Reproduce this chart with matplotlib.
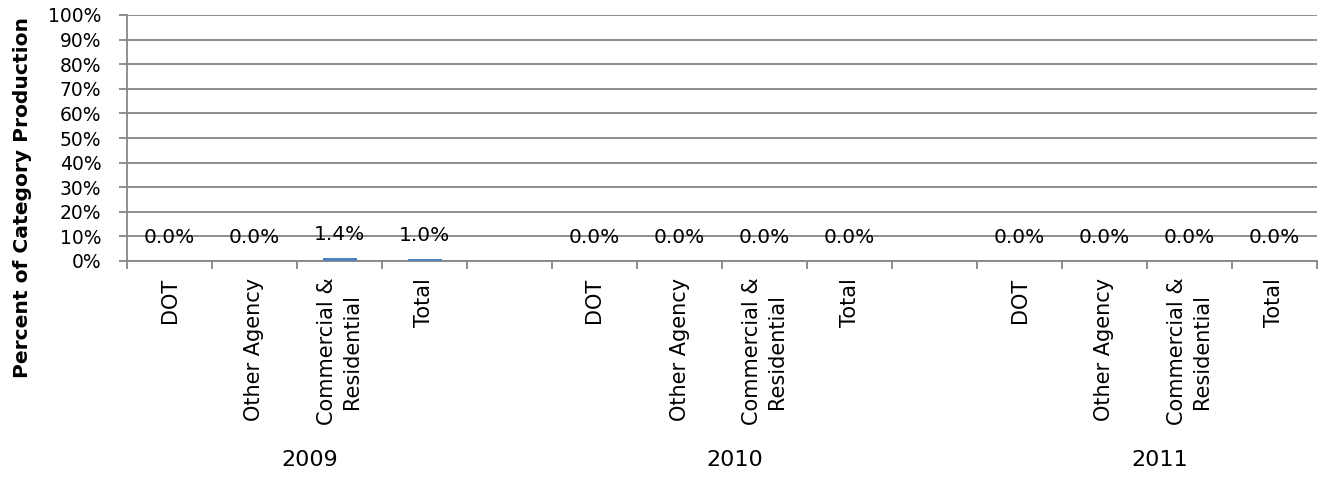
import matplotlib
matplotlib.use("Agg")
import matplotlib.pyplot as plt
import numpy as np

years = ["2009", "2010", "2011"]
categories = ["DOT", "Other Agency", "Commercial &\nResidential", "Total"]
values = {
    "2009": [0.0, 0.0, 1.4, 1.0],
    "2010": [0.0, 0.0, 0.0, 0.0],
    "2011": [0.0, 0.0, 0.0, 0.0],
}
y_ticks = [0, 10, 20, 30, 40, 50, 60, 70, 80, 90, 100]

plt.rcParams['font.family'] = ['DejaVu Sans']

fig = plt.figure(figsize=(13.24, 4.8), dpi=100)
ax = fig.add_axes([127/1324, 1 - 261/480, (1317-127)/1324, (261-15)/480])

bar_color = "#4F81BD"
grid_color = "#868686"
fs = 14.5
n_cat = len(categories)
positions, labels = [], []
slot = 0
for gi, yr in enumerate(years):
    xs = np.arange(n_cat) + slot
    ax.bar(xs, values[yr], width=0.4, color=bar_color, zorder=3)
    for x, v in zip(xs, values[yr]):
        ax.annotate(f"{v:.1f}%", (x, v), xytext=(0, 18), textcoords="offset pixels",
                    ha="center", va="baseline", fontsize=fs, color="black", zorder=4)
    positions.extend(xs)
    labels.extend(categories)
    center = slot + (n_cat - 1) / 2 + 0.15
    ax.text(center, -0.809, yr, transform=ax.get_xaxis_transform(), ha="center",
            va="center", fontsize=16)
    slot += n_cat + 1

total_slots = slot - 1
ax.set_xlim(-0.5, total_slots - 0.5)
ax.set_ylim(0, 100)
ax.set_yticks(y_ticks)
ax.set_yticklabels([f"{t}%" for t in y_ticks], fontsize=13.5)
ax.yaxis.grid(True, color=grid_color, linewidth=1.3, zorder=0)
ax.set_axisbelow(True)

ax.set_xticks(positions)
ax.set_xticklabels(labels, rotation=90, fontsize=15, va="top", ha="center",
                   multialignment="center", linespacing=1.3)
ax.set_xticks(np.arange(-0.5, total_slots, 1.0), minor=True)
ax.tick_params(axis="x", which="major", length=0, pad=12)
ax.tick_params(axis="x", which="minor", length=5.5, color=grid_color, width=1.3)
ax.tick_params(axis="y", length=6, color=grid_color, width=1.3, pad=12.5)

for s in ["top", "right"]:
    ax.spines[s].set_visible(False)
for s in ["left", "bottom"]:
    ax.spines[s].set_color(grid_color)
    ax.spines[s].set_linewidth(1.3)

fig.text(23/1324, 1 - 197/480, "Percent of Category Production", rotation=90,
         fontsize=14.6, fontweight="bold", ha="center", va="center")

fig.savefig("out.png", dpi=100)
